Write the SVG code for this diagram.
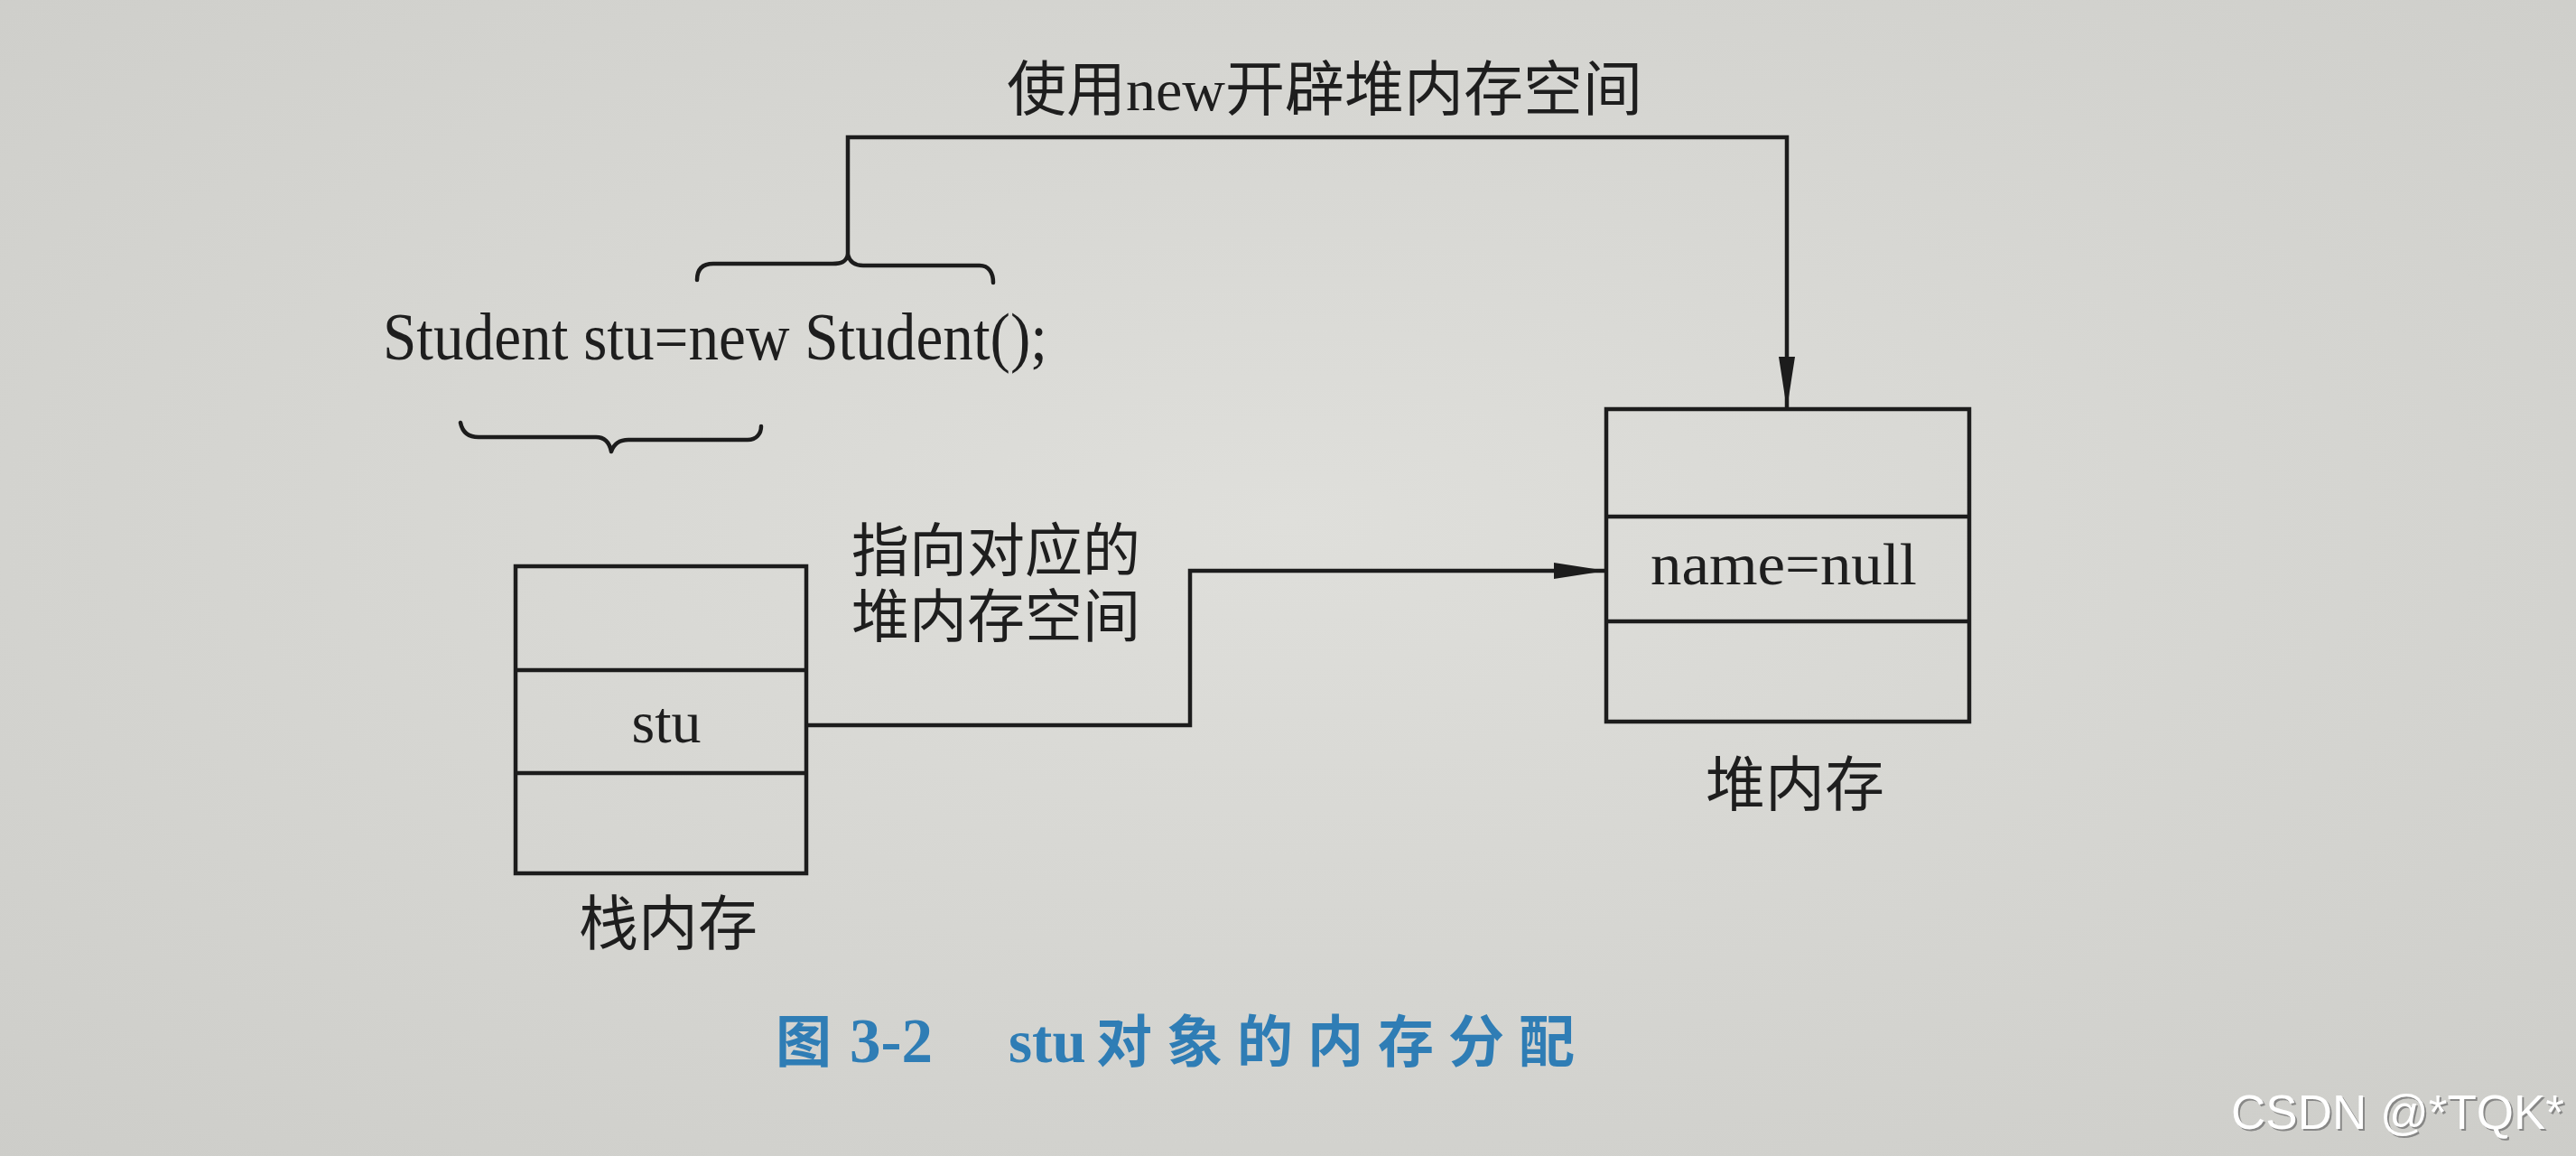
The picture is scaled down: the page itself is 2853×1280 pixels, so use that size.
<svg xmlns="http://www.w3.org/2000/svg" width="2853" height="1280" viewBox="0 0 2853 1280">
  <style>
    .ln { fill: none; stroke: #1c1c1c; stroke-width: 4.5; stroke-linejoin: miter; }
    .br { fill: none; stroke: #1c1c1c; stroke-width: 4.5; stroke-linecap: round; stroke-linejoin: round; }
    .box { fill: none; stroke: #1c1c1c; stroke-width: 4.5; }
    .tx { fill: #1e1e1e; font-family: "Liberation Serif", "Noto Sans CJK SC", serif; }
    .cjk { fill: #1e1e1e; font-family: "Noto Sans CJK SC", sans-serif; }
    .cap { fill: #2f7db5; font-weight: bold; }
  </style>
  <defs>
    <radialGradient id="paper" cx="0.5" cy="0.45" r="0.75">
      <stop offset="0" stop-color="#dfdfdb"/>
      <stop offset="1" stop-color="#cdcdc9"/>
    </radialGradient>
    <marker id="arr" markerUnits="userSpaceOnUse" markerWidth="58" markerHeight="18" refX="58" refY="9" orient="auto" viewBox="0 0 58 18">
      <path d="M0,0 L58,9 L0,18 z" fill="#1c1c1c"/>
    </marker>
  </defs>

  <rect x="0" y="0" width="2853" height="1280" fill="url(#paper)"/>

  <g id="label-new">
    <text class="tx" x="1115" y="122" font-size="66">使用new开辟堆内存空间</text>
  </g>

  <g id="code-line">
    <text class="tx" x="424" y="398" font-size="74" textLength="736" lengthAdjust="spacingAndGlyphs">Student stu=new Student();</text>
  </g>

  <g id="brace-new">
    <path class="br" d="M772,310 C772,298 778,292 790,292 L922,292 C932,292 937,290 939,282 C941,290 946,294 956,294 L1085,294 C1095,294 1100,302 1100,313"/>
  </g>

  <g id="brace-stu">
    <path class="br" d="M510,468 C512,478 518,484 530,484 L660,484 C670,484 675,490 677,500 C680,491 686,487 696,487 L828,487 C838,487 843,480 843,472"/>
  </g>

  <g id="stack-memory">
    <rect class="box" x="571" y="627" width="322" height="340"/>
    <line class="box" x1="571" y1="742" x2="893" y2="742"/>
    <line class="box" x1="571" y1="856" x2="893" y2="856"/>
    <text class="tx" x="738" y="822" font-size="66" text-anchor="middle">stu</text>
    <text class="cjk" x="740" y="1046" font-size="66" text-anchor="middle">栈内存</text>
  </g>

  <g id="heap-memory">
    <rect class="box" x="1779" y="453" width="402" height="346"/>
    <line class="box" x1="1779" y1="572" x2="2181" y2="572"/>
    <line class="box" x1="1779" y1="688" x2="2181" y2="688"/>
    <text class="tx" x="1828" y="647" font-size="66" textLength="295" lengthAdjust="spacingAndGlyphs">name=null</text>
    <text class="cjk" x="1988" y="892" font-size="66" text-anchor="middle">堆内存</text>
  </g>

  <g id="label-point">
    <text class="cjk" font-size="64"><tspan x="943" y="632">指向对应的</tspan><tspan x="943" y="705">堆内存空间</tspan></text>
  </g>

  <g id="connectors">
    <path class="ln" d="M939,282 L939,152 L1979,152 L1979,453" marker-end="url(#arr)"/>
    <path class="ln" d="M893,803 L1318,803 L1318,632 L1779,632" marker-end="url(#arr)"/>
  </g>

  <g id="caption">
    <text class="cap" font-size="62" y="1176"><tspan x="859" font-family="Noto Sans CJK SC, sans-serif">图</tspan><tspan x="941" font-family="Liberation Serif, serif" font-size="69">3-2</tspan><tspan x="1117" font-family="Liberation Serif, serif" font-size="67">stu</tspan><tspan x="1214" font-family="Noto Sans CJK SC, sans-serif" letter-spacing="16">对象的内存分配</tspan></text>
  </g>

  <g id="watermark">
    <text x="2473" y="1252" font-family="Liberation Sans, Arial, sans-serif" font-size="54" fill="#6a6a6a" opacity="0.7" textLength="369" lengthAdjust="spacingAndGlyphs">CSDN @*TQK*</text>
    <text x="2471" y="1250" font-family="Liberation Sans, Arial, sans-serif" font-size="54" fill="#ffffff" textLength="369" lengthAdjust="spacingAndGlyphs">CSDN @*TQK*</text>
  </g>
</svg>
